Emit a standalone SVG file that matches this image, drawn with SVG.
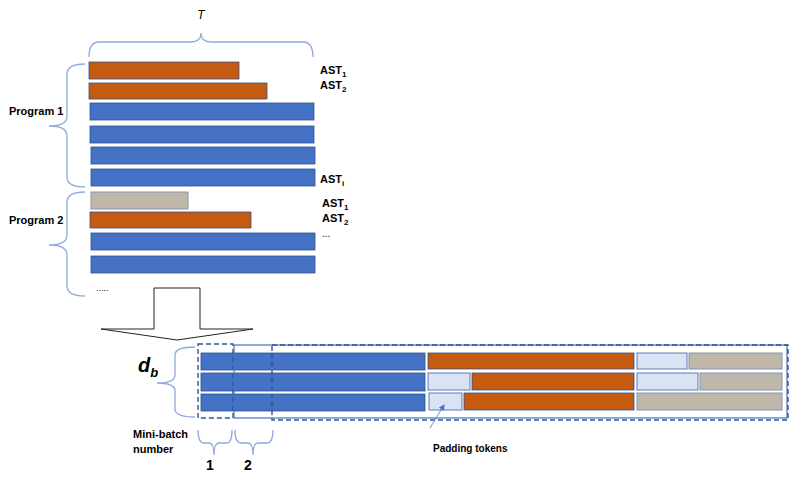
<svg xmlns="http://www.w3.org/2000/svg" width="789" height="486" viewBox="0 0 789 486">
<defs>
<style>
.bl{fill:#4472C4;stroke:#2F528F;stroke-width:0.8}
.or{fill:#C55A11;stroke:#2F528F;stroke-width:0.8}
.gr{fill:#BFB8AA;stroke:#8497B0;stroke-width:1}
.lt{fill:#DAE3F3;stroke:#5B7DBA;stroke-width:1}
.br{fill:none;stroke:#8FAADC;stroke-width:1.3}
.t{font-family:"Liberation Sans",Arial,sans-serif;font-weight:bold;font-size:11px;fill:#000}
.sub{font-size:8px}
.dash{fill:none;stroke:#2F5597;stroke-width:1.4;stroke-dasharray:5,3}
</style>
<marker id="ah" markerWidth="6" markerHeight="6" refX="5" refY="3" orient="auto" markerUnits="userSpaceOnUse">
<path d="M0,0 L6,3 L0,6 Z" fill="#4472C4"/>
</marker>
</defs>
<rect width="789" height="486" fill="#fff"/>

<g id="top-bars">
<rect class="or" x="89" y="62" width="150" height="17"/>
<rect class="or" x="89" y="83" width="178" height="16"/>
<rect class="bl" x="90" y="103" width="224" height="17"/>
<rect class="bl" x="90" y="126" width="224" height="17"/>
<rect class="bl" x="91" y="147" width="224" height="17"/>
<rect class="bl" x="91" y="169" width="224" height="17"/>
<rect class="gr" x="91" y="192" width="97" height="17"/>
<rect class="or" x="90" y="212" width="161" height="16"/>
<rect class="bl" x="91" y="233" width="224" height="17"/>
<rect class="bl" x="91" y="256" width="224" height="17"/>
</g>

<g id="braces">
<path class="br" d="M89,57 Q89,42 99,42 L191,42 Q201,42 201,33 Q201,42 211,42 L303,42 Q313,42 313,57"/>
<path class="br" d="M85,64 Q67,64 67,74 L67,116 Q67,126 49,126 Q67,126 67,136 L67,177 Q67,187 85,187"/>
<path class="br" d="M85,192 Q67,192 67,202 L67,235 Q67,245 49,245 Q67,245 67,255 L67,286 Q67,296 85,296"/>
<path class="br" d="M195,347 Q175,347 175,355 L175,375 Q175,383 157,383 Q175,383 175,391 L175,409 Q175,417 195,417"/>
<path class="br" d="M198,430 Q198,443 204,443 L209,443 Q214,443 214,455 Q214,443 219,443 L227,443 Q232,443 232,430"/>
<path class="br" d="M235,430 Q235,443 241,443 L248,443 Q253,443 253,455 Q253,443 258,443 L267,443 Q273,443 273,430"/>
</g>

<g id="labels">
<text x="201" y="19" text-anchor="middle" style="font-family:'Liberation Sans',Arial,sans-serif;font-style:italic;font-size:12px">T</text>
<text class="t" x="9" y="115">Program 1</text>
<text class="t" x="9" y="224">Program 2</text>
<text class="t" x="320" y="74">AST<tspan class="sub" dy="3">1</tspan></text>
<text class="t" x="320" y="89">AST<tspan class="sub" dy="3">2</tspan></text>
<text class="t" x="320" y="183">AST<tspan class="sub" dy="3">i</tspan></text>
<text class="t" x="322" y="207">AST<tspan class="sub" dy="3">1</tspan></text>
<text class="t" x="322" y="222">AST<tspan class="sub" dy="3">2</tspan></text>
<text class="t" x="322" y="237" style="font-weight:normal;font-size:10px">...</text>
<text class="t" x="96" y="291" style="font-weight:normal;font-size:9px">.....</text>
<text x="138" y="372" style="font-family:'Liberation Sans',Arial,sans-serif;font-weight:bold;font-style:italic;font-size:20px">d<tspan dy="5" style="font-size:13px">b</tspan></text>
<text class="t" x="133" y="438">Mini-batch</text>
<text class="t" x="133" y="453">number</text>
<text class="t" x="206" y="470" style="font-size:14px">1</text>
<text class="t" x="244" y="470" style="font-size:14px">2</text>
<text class="t" x="433" y="452" style="font-size:10px">Padding tokens</text>
</g>

<g id="big-arrow">
<path d="M154,288 L200,288 L200,329 L253,329 L177,340 L101,329 L154,329 Z" fill="#fff" stroke="#222" stroke-width="1"/>
</g>

<g id="minibatch">
<rect class="bl" x="201" y="353" width="224" height="17"/>
<rect class="bl" x="201" y="373" width="224" height="18"/>
<rect class="bl" x="201" y="394" width="224" height="17"/>
<rect class="or" x="428" y="353" width="206" height="16"/>
<rect class="lt" x="637" y="353" width="50" height="16"/>
<rect class="gr" x="689" y="353" width="93" height="16"/>
<rect class="lt" x="428" y="373" width="42" height="17"/>
<rect class="or" x="472" y="373" width="162" height="17"/>
<rect class="lt" x="637" y="373" width="61" height="17"/>
<rect class="gr" x="700" y="373" width="82" height="17"/>
<rect class="lt" x="429" y="393" width="33" height="17"/>
<rect class="or" x="464" y="393" width="170" height="17"/>
<rect class="gr" x="637" y="393" width="145" height="17"/>
<rect class="dash" x="198" y="344" width="35" height="74"/>
<rect x="234" y="345" width="553" height="73" fill="none" stroke="#4472C4" stroke-width="1.2"/>
<rect class="dash" x="272" y="345" width="516" height="75"/>
</g>

<g id="connectors">
<line x1="430" y1="428" x2="444" y2="405" stroke="#4472C4" stroke-width="0.8" marker-end="url(#ah)"/>
</g>
</svg>
